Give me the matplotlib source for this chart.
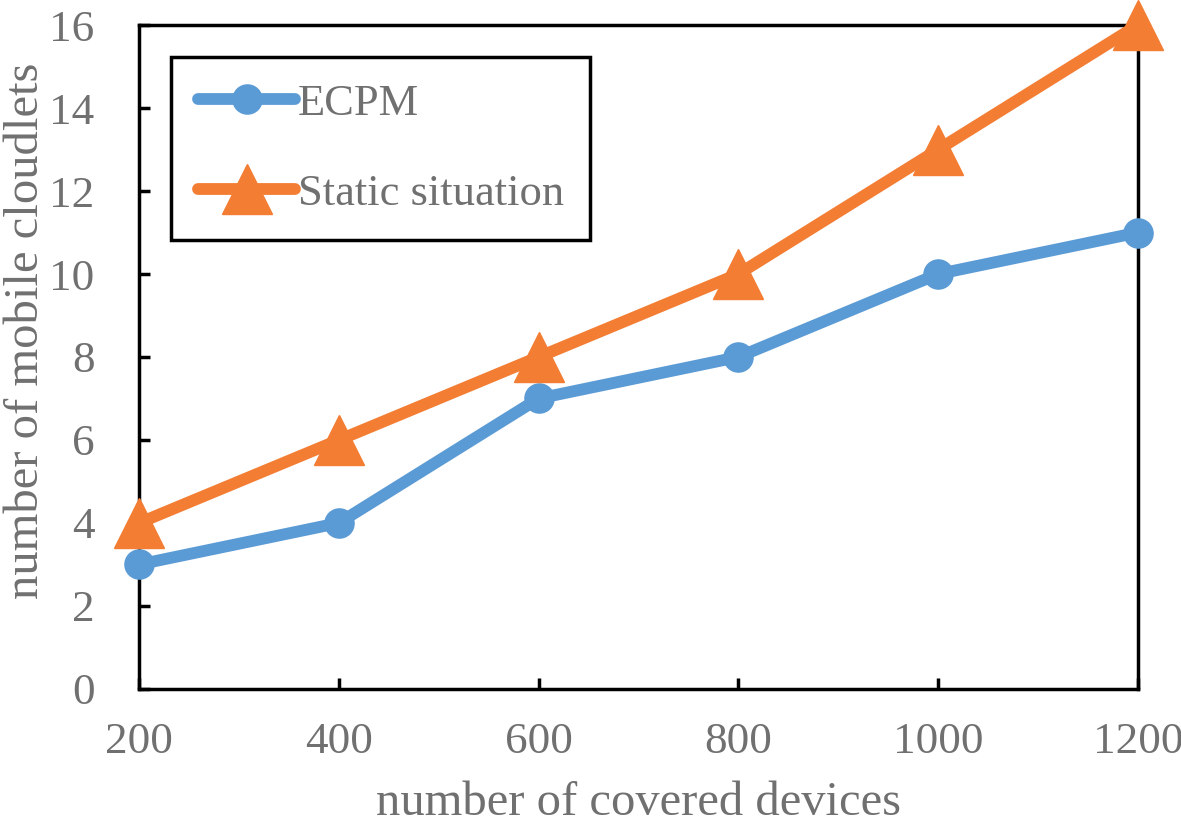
import matplotlib
matplotlib.use("Agg")
import matplotlib.pyplot as plt

devices = [200, 400, 600, 800, 1000, 1200]
ecpm = [3, 4, 7, 8, 10, 11]
static = [4, 6, 8, 10, 13, 16]
yticks = [0, 2, 4, 6, 8, 10, 12, 14, 16]

plt.rcParams['font.family'] = ['Liberation Serif', 'DejaVu Serif']
txt = '#707070'

fig = plt.figure(figsize=(11.81, 8.26), dpi=100)
ax = fig.add_axes([0.1177, 0.1659, 0.8459, 0.8038])

ax.plot(devices, ecpm, color='#5B9BD5', lw=8.5, marker='o', ms=21,
        solid_capstyle='round', label='ECPM', clip_on=False, zorder=3)
ax.plot(devices, static, color='#F37D32', lw=8.5, marker='^', ms=36,
        solid_capstyle='round', label='Static situation', clip_on=False, zorder=4)

ax.set_xlim(200, 1200)
ax.set_ylim(0, 16)
ax.set_xticks(devices)
ax.set_yticks(yticks)
for s in ax.spines.values():
    s.set_linewidth(2.5)
    s.set_color('black')
ax.tick_params(direction='in', length=8, width=2.5, labelsize=32.5, colors='black',
               labelcolor=txt)
ax.tick_params(axis='x', pad=24)
ax.tick_params(axis='y', pad=32)
xl = ax.set_xlabel('number of covered devices', fontsize=35, color=txt)
yl = ax.set_ylabel('number of mobile cloudlets', fontsize=35, color=txt)
xl.set_va('center')
yl.set_va('center')
ax.xaxis.set_label_coords(0.5, -0.171)
ax.yaxis.set_label_coords(-0.113, 0.539)

leg = ax.legend(loc='upper left', bbox_to_anchor=(0.032, 0.952), fontsize=32,
                frameon=True, fancybox=False, edgecolor='black', handlelength=2.2,
                labelspacing=1.12, borderpad=0.6, handletextpad=0.05, labelcolor=txt,
                borderaxespad=0)
leg.get_frame().set_linewidth(2.5)
leg.get_frame().set_alpha(1)

fig.savefig('out.png', dpi=100)
